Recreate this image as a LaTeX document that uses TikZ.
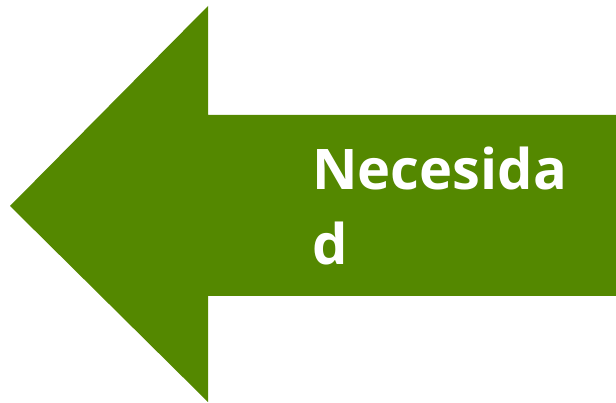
\documentclass[tikz,border=0pt]{standalone}
\usepackage{fontspec}
\setmainfont{Open Sans}
\definecolor{arrowgreen}{RGB}{84,136,0}
\begin{document}
\begin{tikzpicture}[
        x=1pt, y=-1pt,
        lbl/.style={font=\fontsize{56}{75}\selectfont\bfseries, text=white, align=left, inner sep=0pt}
    ]

    % Page frame
    \useasboundingbox (0, 0) rectangle (616, 403);

    % Arrow pointing left
    \fill[arrowgreen] (10, 206) -- (208, 6) -- (208, 115) -- (616, 115)
        -- (616, 296) -- (208, 296) -- (208, 402) -- cycle;

    % Label in the shaft
    \node[lbl, anchor=base west] (need) at (312, 265) {Necesida\\d};

\end{tikzpicture}
\end{document}
